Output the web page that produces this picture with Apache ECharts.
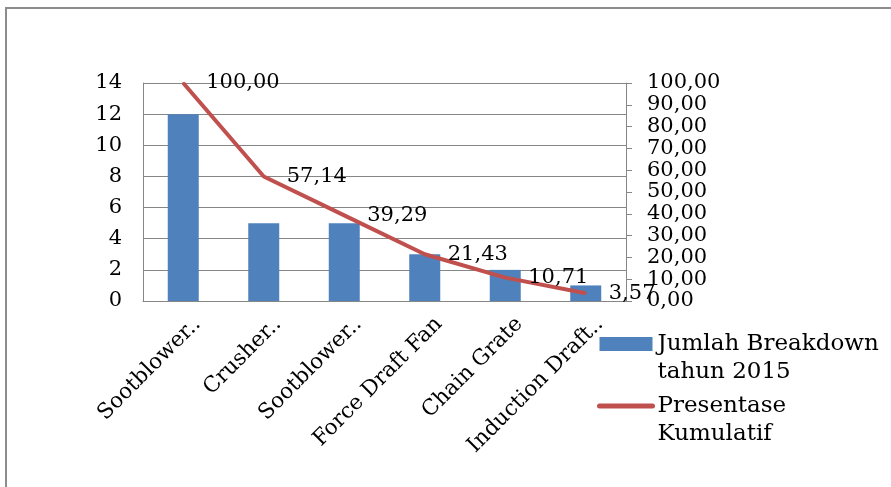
<!DOCTYPE html>
<html><head><meta charset="utf-8">
<script src="https://cdn.jsdelivr.net/npm/echarts@6/dist/echarts.min.js"></script>
<style>
html,body{margin:0;padding:0;background:#fff;}
#frame{position:absolute;left:5px;top:7px;width:886px;height:480px;border-left:2px solid #8c8c8c;border-top:2px solid #8c8c8c;box-sizing:border-box;}
#c{position:absolute;left:0;top:0;width:891px;height:487px;}
</style></head>
<body>
<div id="frame"></div>
<div id="c"></div>
<script>
const categories = ['Sootblower..', 'Crusher..', 'Sootblower..', 'Force Draft Fan', 'Chain Grate', 'Induction Draft..'];
const breakdownCounts = [12, 5, 5, 3, 2, 1];
const cumulativePercent = [100.00, 57.14, 39.29, 21.43, 10.71, 3.57];
const barName = 'Jumlah Breakdown\ntahun 2015';
const lineName = 'Presentase\nKumulatif';

const FONT = 'DejaVu Serif';
const fmt = v => Number(v).toFixed(2).replace('.', ',');
const chart = echarts.init(document.getElementById('c'), null, {renderer: 'canvas'});
chart.setOption({
  animation: false,
  backgroundColor: 'transparent',
  grid: {left: 143, right: 265, top: 83, bottom: 186, containLabel: false},
  legend: {
    orient: 'vertical', left: 592, top: 297, itemGap: -22,
    itemWidth: 53, itemHeight: 14,
    formatter: name => ' \n' + name,
    textStyle: {fontFamily: FONT, fontSize: 23, color: '#000', lineHeight: 28},
    data: [
      {name: barName, icon: 'rect'},
      {name: lineName, itemStyle: {opacity: 0}, lineStyle: {width: 5, cap: 'round', color: '#C0504D'}}
    ]
  },
  xAxis: {
    type: 'category', data: categories,
    axisLine: {show: true, lineStyle: {color: '#868686', width: 1}},
    axisTick: {show: false},
    axisLabel: {rotate: 45, interval: 0, margin: 34, padding: [0, -20, 0, 0], fontFamily: FONT, fontSize: 21.5, color: '#000'}
  },
  yAxis: [
    {
      type: 'value', min: 0, max: 14, interval: 2,
      axisLine: {show: true, lineStyle: {color: '#868686', width: 1}},
      axisTick: {show: false},
      splitLine: {show: true, lineStyle: {color: '#868686', width: 1}},
      axisLabel: {margin: 21, fontFamily: FONT, fontSize: 21, color: '#000'}
    },
    {
      type: 'value', min: 0, max: 100, interval: 10, position: 'right',
      axisLine: {show: true, lineStyle: {color: '#868686', width: 1}},
      axisTick: {show: true, length: 6, lineStyle: {color: '#868686'}},
      splitLine: {show: false},
      axisLabel: {margin: 21, fontFamily: FONT, fontSize: 21, color: '#000', formatter: fmt}
    }
  ],
  series: [
    {
      name: barName, type: 'bar', data: breakdownCounts, yAxisIndex: 0,
      barWidth: 31, itemStyle: {color: '#4F81BD'}
    },
    {
      name: lineName, type: 'line', data: cumulativePercent, yAxisIndex: 1,
      symbol: 'circle', symbolSize: 2, itemStyle: {color: '#C0504D'},
      lineStyle: {color: '#C0504D', width: 4},
      label: {show: true, position: 'right', distance: 22, fontFamily: FONT, fontSize: 21, color: '#000', formatter: p => fmt(p.value)}
    }
  ]
});
</script>
</body></html>
